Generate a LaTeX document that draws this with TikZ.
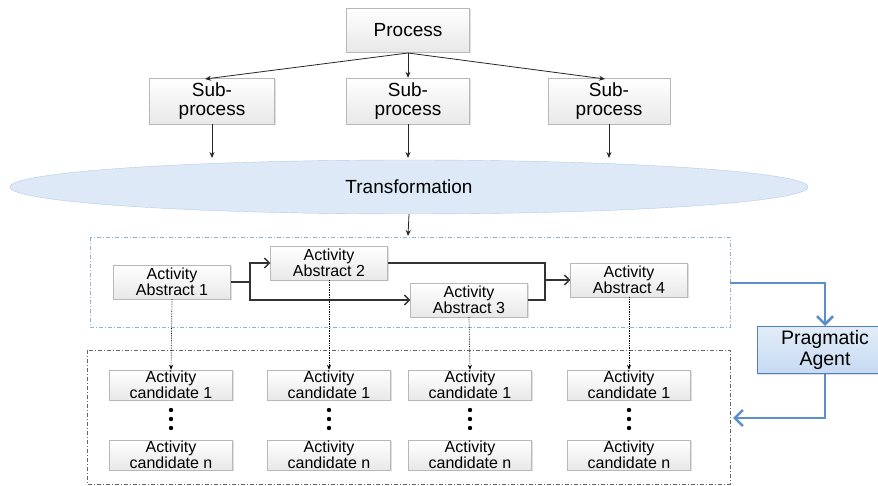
\documentclass[tikz,border=0pt]{standalone}
\usepackage{fontspec}
\setmainfont{Liberation Sans}
\usetikzlibrary{shapes.geometric,arrows.meta,shadows}
\definecolor{boxline}{HTML}{B8B8B8}
\definecolor{blueline}{HTML}{5B8FC9}
\definecolor{ellfill}{HTML}{DDE9F7}
\definecolor{ellline}{HTML}{B4CCEA}
\definecolor{agfill}{HTML}{C6DAF2}
\definecolor{agline}{HTML}{4F81BD}
\definecolor{dashblue}{HTML}{8DB3E2}
\begin{document}
\begin{tikzpicture}[x=1pt,y=-1pt,
  gbox/.style={draw=boxline, top color=white, bottom color=gray!18, inner sep=0pt,
    align=center, drop shadow={opacity=0.25, shadow xshift=1pt, shadow yshift=-1pt}},
  bigbox/.style={gbox, font=\fontsize{19}{19.5}\selectfont},
  actbox/.style={gbox, minimum width=117pt, minimum height=34pt, font=\fontsize{16}{16.5}\selectfont},
  candbox/.style={gbox, minimum width=123pt, minimum height=30pt, font=\fontsize{16}{16}\selectfont},
  toparrow/.style={-{Stealth[length=6pt,width=5pt]}, line width=0.8pt, draw=black!85},
  actarrow/.style={-{Straight Barb[length=5pt,width=10pt,line width=1.4pt]}, line width=1.2pt, draw=black!80},
  dotarrow/.style={-{Stealth[length=5pt,width=4pt]}, densely dotted, line width=0.7pt},
  bluearrow/.style={-{Straight Barb[length=8pt,width=16pt,line width=2.6pt]}, line width=2.8pt, draw=blueline},
  dashdot/.style={dash pattern=on 4pt off 2pt on 1pt off 2pt, line width=0.9pt}
]
\useasboundingbox[fill=white] (0,0) rectangle (878,486);

% top
\node[bigbox, minimum width=123pt, minimum height=44pt] (proc) at (408,30) {Process};
\node[bigbox, minimum width=125pt, minimum height=46pt] (sp1) at (212,101) {Sub-\\process};
\node[bigbox, minimum width=123pt, minimum height=46pt] (sp2) at (408,101) {Sub-\\process};
\node[bigbox, minimum width=122pt, minimum height=46pt] (sp3) at (609,101) {Sub-\\process};

\coordinate (pb) at (408,53);
\draw[toparrow] (pb) -- (205,79);
\draw[toparrow] (pb) -- (sp2.north);
\draw[toparrow] (pb) -- (605,79);

\node[ellipse, draw=ellline, fill=ellfill, minimum width=798pt, minimum height=54pt,
  inner sep=0pt, font=\fontsize{19}{20}\selectfont] (tr) at (409,187) {Transformation};

\coordinate (e1) at (212,158);
\coordinate (e2) at (408,158);
\coordinate (e3) at (609,158);
\draw[toparrow] (sp1.south) -- (e1);
\draw[toparrow] (sp2.south) -- (e2);
\draw[toparrow] (sp3.south) -- (e3);

% blue dashed container
\draw[dashblue, dashdot] (90,237) rectangle (730,327);
\coordinate (bt) at (408,236);
\draw[toparrow] (tr.south) -- (bt);

\node[actbox] (a1) at (172,282) {Activity\\Abstract 1};
\node[actbox] (a2) at (329,263) {Activity\\Abstract 2};
\node[actbox] (a3) at (469,300) {Activity\\Abstract 3};
\node[actbox] (a4) at (629,280) {Activity\\Abstract 4};

\draw[line width=1.2pt, draw=black!80] (a1.east) -- (250,282);
\draw[actarrow] (250,282) |- (a2.west);
\draw[actarrow] (250,282) |- (a3.west);
\draw[line width=1.2pt, draw=black!80] (a2.east) -| (545,280);
\draw[line width=1.2pt, draw=black!80] (a3.east) -| (545,280);
\draw[actarrow] (545,280) -- (a4.west);

% gray dashed container
\draw[gray!80!black, dashdot] (87,350) rectangle (730,484);

\foreach \i/\x in {1/171,2/329,3/470,4/629}{
  \node[candbox] (c\i) at (\x,385) {Activity\\candidate 1};
  \node[candbox] (n\i) at (\x,455) {Activity\\candidate n};
  \node[inner sep=0pt] (d\i) at (\x,419) {\tikz[x=1pt,y=1pt]{\fill (0,9) circle (2.2pt); \fill (0,0) circle (2.2pt); \fill (0,-9) circle (2.2pt);}};
}
\draw[dotarrow] (a1.south) -- (c1.north);
\draw[dotarrow] (a2.south) -- (c2.north);
\draw[dotarrow] (a3.south) -- (c3.north);
\draw[dotarrow] (a4.south) -- (c4.north);

% pragmatic agent
\node[draw=agline, line width=1pt, top color=agfill!50, bottom color=agfill, minimum width=136pt,
  minimum height=47pt, inner sep=0pt, align=center, font=\fontsize{19.5}{21}\selectfont,
  drop shadow={opacity=0.25, shadow xshift=1pt, shadow yshift=-1pt}] (pa) at (825,350) {Pragmatic\\Agent};

\coordinate (bx) at (730,283);
\coordinate (gx) at (733,418);
\draw[bluearrow] (bx) -| (pa.north);
\draw[bluearrow] (pa.south) |- (gx);
\end{tikzpicture}
\end{document}
